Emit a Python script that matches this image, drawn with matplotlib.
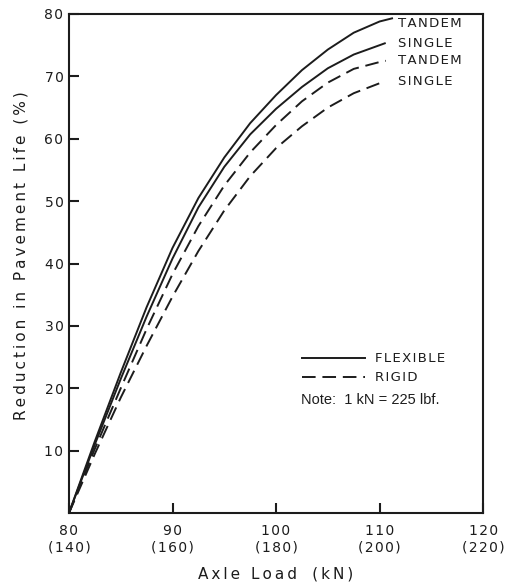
import numpy as np
import matplotlib.pyplot as plt
from matplotlib.lines import Line2D

# axle load (kN) and reduction in pavement life (%)
load_ft = np.array([80, 82.5, 85, 87.5, 90, 92.5, 95, 97.5, 100, 102.5, 105, 107.5, 110, 111.2])
red_ft = np.array([0, 11.5, 22.5, 33, 42.5, 50.5, 57, 62.5, 67, 71, 74.3, 77, 78.8, 79.3])   # flexible tandem

load_fs = np.array([80, 82.5, 85, 87.5, 90, 92.5, 95, 97.5, 100, 102.5, 105, 107.5, 110, 110.5])
red_fs = np.array([0, 11, 21.5, 31.5, 40.8, 49, 55.5, 60.7, 64.8, 68.3, 71.3, 73.5, 75.0, 75.3])  # flexible single

load_rt = np.array([80, 82.5, 85, 87.5, 90, 92.5, 95, 97.5, 100, 102.5, 105, 107.5, 110, 110.6])
red_rt = np.array([0, 10.3, 20, 29.5, 38.3, 46, 52.5, 57.8, 62.2, 66, 69, 71.2, 72.3, 72.5])    # rigid tandem

load_rs = np.array([80, 82.5, 85, 87.5, 90, 92.5, 95, 97.5, 100, 102.5, 105, 107.5, 110, 110.6])
red_rs = np.array([0, 9.5, 18.5, 26.8, 34.7, 42, 48.5, 54, 58.5, 62, 65, 67.3, 68.9, 69.1])     # rigid single

xticks = [80, 90, 100, 110, 120]
xtick_lbf = ['(140)', '(160)', '(180)', '(200)', '(220)']
yticks = [10, 20, 30, 40, 50, 60, 70, 80]

INK = '#1c1c1c'


def spaced(s, sep='\u2009'):
    # scanned chart uses wide letter spacing
    return sep.join(s)


fig = plt.figure(figsize=(5.07, 5.83), dpi=100)
ax = fig.add_axes([0.136, 0.120, 0.817, 0.856])

dash = (7, 3.5)
ax.plot(load_ft, red_ft, color=INK, lw=1.4)
ax.plot(load_fs, red_fs, color=INK, lw=1.4)
ax.plot(load_rt, red_rt, color=INK, lw=1.4, dashes=dash)
ax.plot(load_rs, red_rs, color=INK, lw=1.4, dashes=dash)

# curve end labels (top one nudged down off the frame)
end_labels = ['TANDEM', 'SINGLE', 'TANDEM', 'SINGLE']
nudge = [-0.8, 0, 0, 0]
for ys, lab, dy in zip([red_ft, red_fs, red_rt, red_rs], end_labels, nudge):
    ax.text(111.8, ys[-1] + dy, spaced(lab, '\u200a'), fontsize=9.5, color=INK, va='center', ha='left')

ax.set_xlim(80, 120)
ax.set_ylim(0, 80)
ax.set_xticks(xticks)
ax.set_xticklabels([spaced(str(v), '\u200a') + '\n' + spaced(l, '\u200a') for v, l in zip(xticks, xtick_lbf)],
                   fontsize=10, color=INK, linespacing=1.2)
ax.set_yticks(yticks)
ax.set_yticklabels([spaced(str(v), '\u200a') for v in yticks], fontsize=10, color=INK)
ax.tick_params(direction='in', length=7, width=1.5, color=INK)
ax.tick_params(axis='x', pad=8)
ax.tick_params(axis='y', pad=4)
for sp in ax.spines.values():
    sp.set_linewidth(1.5)
    sp.set_color(INK)

ax.set_xlabel(spaced('Axle Load') + '\u2003' + spaced('(kN)'), fontsize=11, color=INK, labelpad=9)
ax.set_ylabel(spaced('Reduction in Pavement Life (%)'), fontsize=11, color=INK)
ax.yaxis.set_label_coords(-0.098, 0.515)

handles = [Line2D([], [], color=INK, lw=1.4),
           Line2D([], [], color=INK, lw=1.4, dashes=dash)]
ax.legend(handles, [spaced('FLEXIBLE', '\u200a'), spaced('RIGID', '\u200a')],
          loc='upper left', bbox_to_anchor=(0.562, 0.322), frameon=False, fontsize=9.5,
          handlelength=4.8, handletextpad=0.75, labelspacing=0.45, borderpad=0, borderaxespad=0,
          labelcolor=INK)
ax.text(102.4, 18.1, 'Note:  1 kN = 225 lbf.', fontsize=10.5, color=INK, va='center', ha='left',
        family='Liberation Sans')

plt.savefig('out.png', dpi=100)
